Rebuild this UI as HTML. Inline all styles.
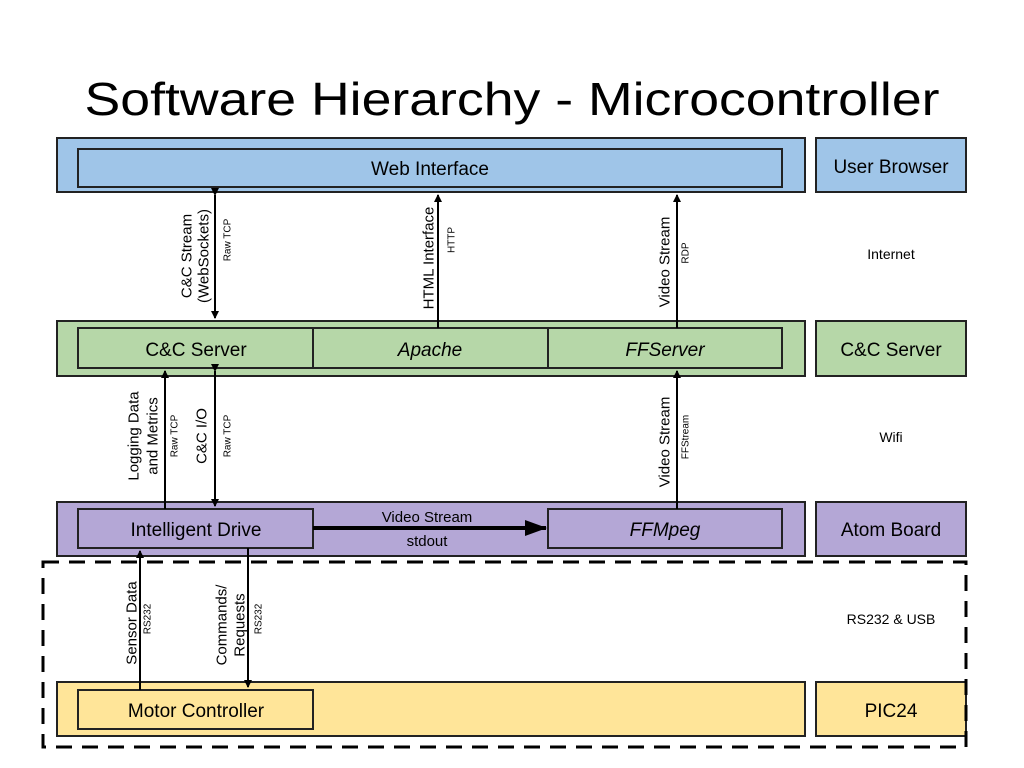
<!DOCTYPE html>
<html><head><meta charset="utf-8"><style>
html,body{margin:0;padding:0;background:#fff;}
svg{display:block;font-family:"Liberation Sans",Arial,sans-serif;}
</style></head><body>
<svg width="1024" height="768" viewBox="0 0 1024 768" xmlns="http://www.w3.org/2000/svg">
<defs>
<marker id="a" markerWidth="8" markerHeight="8" refX="7" refY="4" orient="auto" markerUnits="userSpaceOnUse"><path d="M0,0 L8,4 L0,8 z" fill="#000"/></marker>
<marker id="b" markerWidth="22" markerHeight="16" refX="21" refY="8" orient="auto" markerUnits="userSpaceOnUse"><path d="M0,0 L22,8 L0,16 z" fill="#000"/></marker>
</defs>
<text x="512" y="115" text-anchor="middle" font-size="46" textLength="855" lengthAdjust="spacingAndGlyphs" fill="#000">Software Hierarchy -  Microcontroller</text>

<g stroke="#222" stroke-width="2">
<rect x="57" y="138" width="748" height="54" fill="#9fc5e8"/>
<rect x="78" y="149" width="704" height="38" fill="#9fc5e8"/>
<rect x="816" y="138" width="150" height="54" fill="#9fc5e8"/>

<rect x="57" y="321" width="748" height="55" fill="#b6d7a8"/>
<rect x="78" y="328" width="235" height="40" fill="#b6d7a8"/>
<rect x="313" y="328" width="235" height="40" fill="#b6d7a8"/>
<rect x="548" y="328" width="234" height="40" fill="#b6d7a8"/>
<rect x="816" y="321" width="150" height="55" fill="#b6d7a8"/>

<rect x="57" y="502" width="748" height="54" fill="#b4a7d6"/>
<rect x="78" y="509" width="235" height="39" fill="#b4a7d6"/>
<rect x="548" y="509" width="234" height="39" fill="#b4a7d6"/>
<rect x="816" y="502" width="150" height="54" fill="#b4a7d6"/>

<rect x="57" y="682" width="748" height="54" fill="#ffe599"/>
<rect x="78" y="690" width="235" height="39" fill="#ffe599"/>
<rect x="816" y="682" width="150" height="54" fill="#ffe599"/>
</g>
<rect x="43" y="562" width="923" height="185" fill="none" stroke="#000" stroke-width="3" stroke-dasharray="16,10"/>

<g font-size="19" text-anchor="middle" fill="#000">
<text x="430" y="175">Web Interface</text>
<text x="891" y="173">User Browser</text>
<text x="196" y="356">C&amp;C Server</text>
<text x="430" y="356" font-style="italic">Apache</text>
<text x="665" y="356" font-style="italic">FFServer</text>
<text x="891" y="356">C&amp;C Server</text>
<text x="196" y="536">Intelligent Drive</text>
<text x="665" y="536" font-style="italic">FFMpeg</text>
<text x="891" y="536">Atom Board</text>
<text x="196" y="717">Motor Controller</text>
<text x="891" y="717">PIC24</text>
</g>
<g font-size="14" text-anchor="middle" fill="#000">
<text x="891" y="259">Internet</text>
<text x="891" y="442">Wifi</text>
<text x="891" y="624">RS232 &amp; USB</text>
</g>

<g stroke="#000" stroke-width="2" fill="none">
<line x1="215" y1="195" x2="215" y2="318" marker-start="url(#a)" marker-end="url(#a)"/>
<line x1="438" y1="328" x2="438" y2="195" marker-end="url(#a)"/>
<line x1="677" y1="328" x2="677" y2="195" marker-end="url(#a)"/>
<line x1="165" y1="509" x2="165" y2="371" marker-end="url(#a)"/>
<line x1="215" y1="371" x2="215" y2="506" marker-start="url(#a)" marker-end="url(#a)"/>
<line x1="677" y1="509" x2="677" y2="371" marker-end="url(#a)"/>
<line x1="140" y1="690" x2="140" y2="551" marker-end="url(#a)"/>
<line x1="248" y1="548" x2="248" y2="687" marker-end="url(#a)"/>
<line x1="313" y1="528" x2="546" y2="528" stroke-width="4" marker-end="url(#b)"/>
</g>

<g fill="#000" text-anchor="middle">
<text x="427" y="522" font-size="15">Video Stream</text>
<text x="427" y="546" font-size="15">stdout</text>
</g>

<g fill="#000" text-anchor="middle" dominant-baseline="central">
<text transform="translate(187,256) rotate(-90)" font-size="15">C&amp;C Stream</text>
<text transform="translate(204,256) rotate(-90)" font-size="15">(WebSockets)</text>
<text transform="translate(228,240) rotate(-90)" font-size="10">Raw TCP</text>
<text transform="translate(429,258) rotate(-90)" font-size="15">HTML Interface</text>
<text transform="translate(452,240) rotate(-90)" font-size="10">HTTP</text>
<text transform="translate(665,262) rotate(-90)" font-size="15">Video Stream</text>
<text transform="translate(686,253) rotate(-90)" font-size="10">RDP</text>

<text transform="translate(134,436) rotate(-90)" font-size="15">Logging Data</text>
<text transform="translate(153,436) rotate(-90)" font-size="15">and Metrics</text>
<text transform="translate(175,436) rotate(-90)" font-size="10">Raw TCP</text>
<text transform="translate(202,436) rotate(-90)" font-size="15">C&amp;C I/O</text>
<text transform="translate(228,436) rotate(-90)" font-size="10">Raw TCP</text>
<text transform="translate(665,442) rotate(-90)" font-size="15">Video Stream</text>
<text transform="translate(686,437) rotate(-90)" font-size="10">FFStream</text>

<text transform="translate(132,623) rotate(-90)" font-size="15">Sensor Data</text>
<text transform="translate(148,619) rotate(-90)" font-size="10">RS232</text>
<text transform="translate(222,625) rotate(-90)" font-size="15">Commands/</text>
<text transform="translate(240,625) rotate(-90)" font-size="15">Requests</text>
<text transform="translate(259,619) rotate(-90)" font-size="10">RS232</text>
</g>
</svg>
</body></html>
